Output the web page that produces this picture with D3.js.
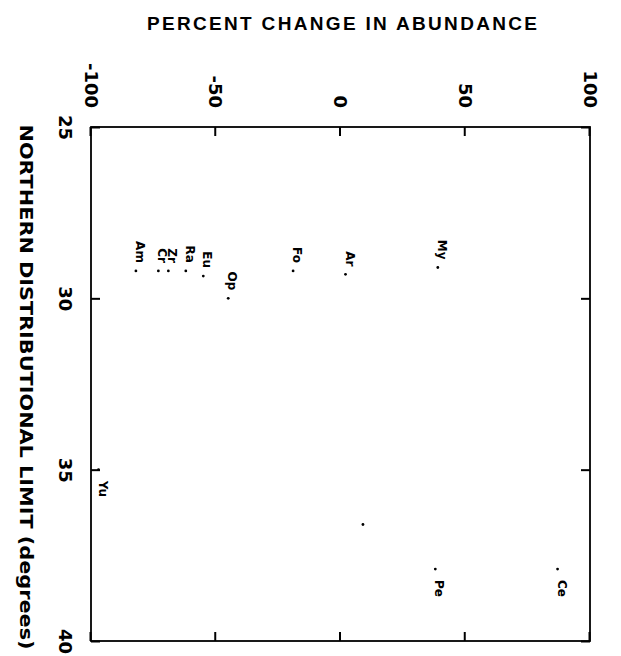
<!DOCTYPE html>
<html>
<head>
<meta charset="utf-8">
<script src="https://cdn.jsdelivr.net/npm/d3@7"></script>
<style>
  body { margin: 0; background: #fff; }
  svg { display: block; }
  .tick line { stroke: #000; stroke-width: 2; }
  .tick text { font-family: "DejaVu Sans", sans-serif; font-weight: bold; font-size: 18px; fill: #000; }
  .lab { font-family: "DejaVu Sans", sans-serif; font-weight: bold; font-size: 12px; fill: #000; }
</style>
</head>
<body>
<script>
// species code, northern limit (degrees), percent change in abundance
var species    = ['Am', 'Cr', 'Zr', 'Ra', 'Eu', 'Op', 'Fo', 'Ar', 'My', '', 'Pe', 'Ce', 'Yu'];
var northLimit = [29.2, 29.2, 29.2, 29.2, 29.35, 30.0, 29.2, 29.3, 29.1, 36.6, 37.9, 37.9, 35.0];
var pctChange  = [-82, -73, -69, -62, -55, -45, -19, 2, 39, 9, 38, 87, -97];

var degTicks = [25, 30, 35, 40];
var pctTicks = [-100, -50, 0, 50, 100];

var width = 621, height = 656;
// plot box on the page (the whole chart is turned a quarter clockwise)
var boxL = 91, boxR = 590, boxT = 127, boxB = 641;
var W = boxB - boxT,   // degrees run down the page
    H = boxR - boxL;   // percent runs across the page

var svg = d3.select('body').append('svg')
    .attr('width', width)
    .attr('height', height);

svg.append('rect').attr('width', width).attr('height', height).attr('fill', '#fff');

var g = svg.append('g')
    .attr('transform', 'translate(' + boxR + ',' + boxT + ') rotate(90)');

var x = d3.scaleLinear().domain([25, 40]).range([0, W]);
var y = d3.scaleLinear().domain([-100, 100]).range([H, 0]);

var plain = function(d) { return String(d); };

// axes, ticks pointing into the box on all four sides
g.append('g')
    .attr('transform', 'translate(0,' + H + ')')
    .call(d3.axisBottom(x).tickValues(degTicks).tickSize(-9).tickPadding(19).tickFormat(plain));
g.append('g')
    .call(d3.axisTop(x).tickValues(degTicks).tickSize(-9).tickFormat(''));
g.append('g')
    .call(d3.axisLeft(y).tickValues(pctTicks).tickSize(-9).tickPadding(19).tickFormat(plain));
g.append('g')
    .attr('transform', 'translate(' + W + ',0)')
    .call(d3.axisRight(y).tickValues(pctTicks).tickSize(-9).tickFormat(''));
g.selectAll('.domain').remove();

g.append('rect')
    .attr('width', W)
    .attr('height', H)
    .attr('fill', 'none')
    .attr('stroke', '#000')
    .attr('stroke-width', 1.8);

// points
var idx = d3.range(species.length);
g.append('g').selectAll('circle')
    .data(idx)
    .enter()
    .append('circle')
    .attr('cx', function(i) { return x(northLimit[i]); })
    .attr('cy', function(i) { return y(pctChange[i]); })
    .attr('r', 1.4)
    .attr('fill', '#000');

// labels: before the dot for southern species, after it for the northern ones
g.append('g').selectAll('text')
    .data(idx)
    .enter()
    .append('text')
    .attr('class', 'lab')
    .attr('x', function(i) {
        return northLimit[i] >= 35 ? x(northLimit[i]) + 11 : x(northLimit[i]) - 8;
    })
    .attr('y', function(i) { return y(pctChange[i]); })
    .attr('text-anchor', function(i) { return northLimit[i] >= 35 ? 'start' : 'end'; })
    .text(function(i) { return species[i]; });

// axis titles
g.append('text')
    .attr('x', W / 2 + 3)
    .attr('y', H + 71)
    .attr('text-anchor', 'middle')
    .attr('textLength', 525)
    .attr('lengthAdjust', 'spacingAndGlyphs')
    .style('font-family', '"DejaVu Sans", sans-serif')
    .style('font-weight', 'bold')
    .style('font-size', '18px')
    .text('NORTHERN DISTRIBUTIONAL LIMIT (degrees)');

svg.append('text')
    .attr('x', 342)
    .attr('y', 30)
    .attr('text-anchor', 'middle')
    .attr('textLength', 390)
    .attr('lengthAdjust', 'spacing')
    .style('font-family', '"Liberation Sans", Arial, sans-serif')
    .style('font-weight', 'bold')
    .style('font-size', '19px')
    .text('PERCENT CHANGE IN ABUNDANCE');
</script>
</body>
</html>
